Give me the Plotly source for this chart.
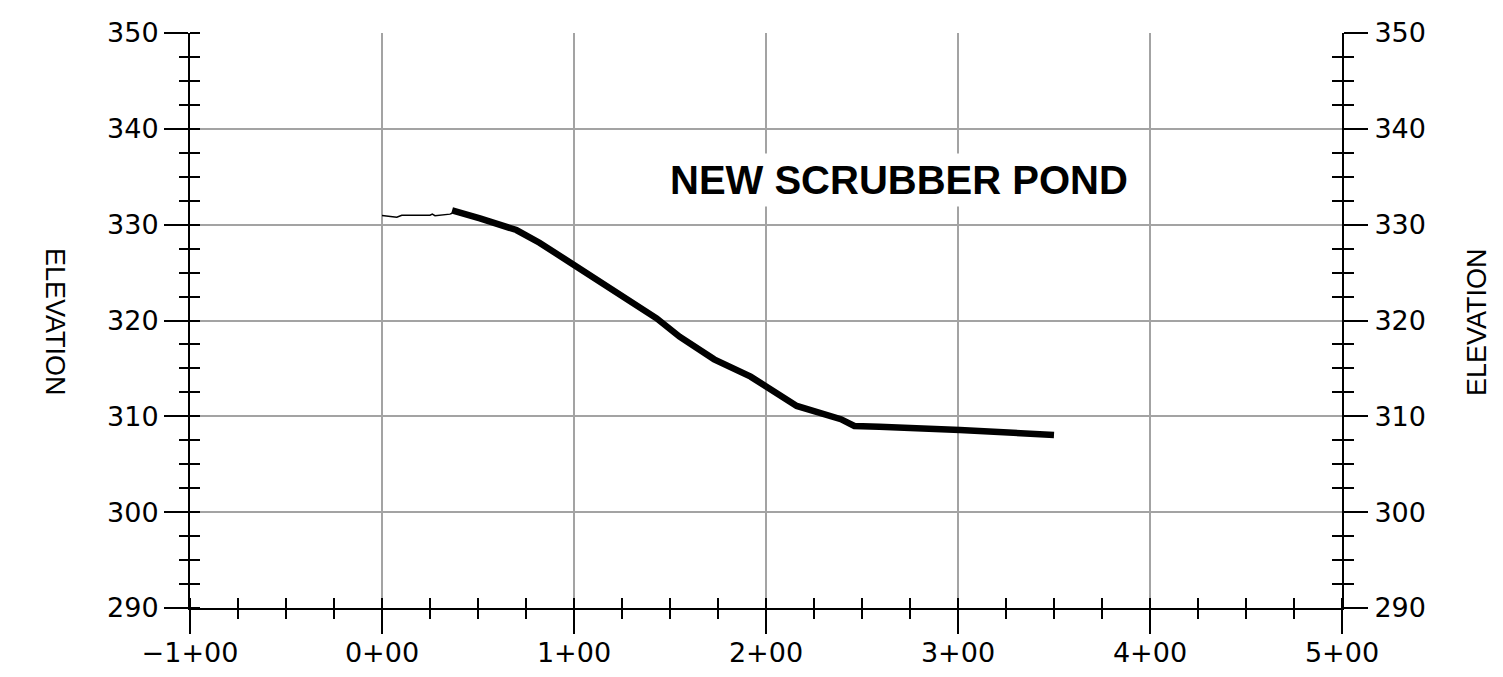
import plotly.graph_objects as go

# --- data ---
existing_x = [0.0, 0.077, 0.103, 0.25, 0.262, 0.276, 0.354, 0.365]
existing_y = [330.95, 330.77, 330.98, 330.98, 331.1, 330.94, 331.1, 331.19]

profile_x = [0.365, 0.44, 0.51, 0.70, 0.77, 0.82, 1.00, 1.20, 1.43, 1.55, 1.73,
             1.92, 2.00, 2.16, 2.39, 2.46, 2.59, 2.84, 3.01, 3.50]
profile_y = [331.5, 331.1, 330.66, 329.44, 328.75, 328.12, 325.79, 323.18, 320.23,
             318.31, 315.95, 314.14, 313.09, 311.08, 309.7, 309.0, 308.92, 308.74,
             308.57, 308.05]

x_ticks = [-1, 0, 1, 2, 3, 4, 5]
x_labels = ["\u22121+00", "0+00", "1+00", "2+00", "3+00", "4+00", "5+00"]
y_ticks = [290, 300, 310, 320, 330, 340, 350]
y_labels = ["290", "300", "310", "320", "330", "340", "350"]

title_text = "NEW SCRUBBER POND"
axis_title = "ELEVATION"

X_RANGE = [-1, 5]
Y_RANGE = [290, 350]

tick_font = dict(family="DejaVu Sans", size=27, color="black")
grid_color = "#a3a3a3"

fig = go.Figure()
fig.add_trace(go.Scatter(x=existing_x, y=existing_y, mode="lines",
                         line=dict(color="black", width=1.5),
                         showlegend=False, hoverinfo="skip"))
fig.add_trace(go.Scatter(x=profile_x, y=profile_y, mode="lines",
                         line=dict(color="black", width=6.5),
                         showlegend=False, hoverinfo="skip"))
# empty traces so overlay axes are drawn
fig.add_trace(go.Scatter(x=[], y=[], xaxis="x", yaxis="y2", showlegend=False))
fig.add_trace(go.Scatter(x=[], y=[], xaxis="x2", yaxis="y3", showlegend=False))
fig.add_trace(go.Scatter(x=[], y=[], xaxis="x2", yaxis="y4", showlegend=False))

minor_common = dict(tickcolor="black", tickwidth=1.5, ticklen=10, showgrid=False)

fig.update_layout(
    width=1495, height=669,
    margin=dict(l=182, r=161, t=25, b=69, autoexpand=False),
    paper_bgcolor="white", plot_bgcolor="white",
    xaxis=dict(
        range=X_RANGE, tickmode="array", tickvals=x_ticks, ticktext=x_labels,
        ticks="outside", ticklen=24, tickwidth=2, tickcolor="black",
        showline=True, linewidth=2, linecolor="black", automargin=False,
        showgrid=True, gridcolor=grid_color, gridwidth=1.5, zeroline=False,
        tickfont=tick_font, ticklabelstandoff=-4,
        minor=dict(ticks="inside", dtick=0.25, tick0=0, **minor_common),
    ),
    xaxis2=dict(
        range=X_RANGE, overlaying="x", side="bottom", anchor="y", automargin=False,
        showgrid=False, showline=False, zeroline=False, ticks="",
        showticklabels=False, tickmode="linear", dtick=1, tick0=0,
        minor=dict(ticks="outside", dtick=0.25, tick0=0, **minor_common),
    ),
    yaxis=dict(
        range=Y_RANGE, tickmode="array", tickvals=y_ticks, ticktext=y_labels,
        ticks="outside", ticklen=24, tickwidth=2, tickcolor="black",
        showline=True, linewidth=2, linecolor="black", automargin=False,
        showgrid=True, gridcolor=grid_color, gridwidth=1.5, zeroline=False,
        tickfont=tick_font, ticklabelstandoff=0,
        minor=dict(ticks="inside", dtick=2.5, tick0=290, **minor_common),
    ),
    yaxis2=dict(
        range=Y_RANGE, overlaying="y", side="right", anchor="x", automargin=False,
        tickmode="array", tickvals=y_ticks, ticktext=y_labels,
        ticks="outside", ticklen=24, tickwidth=2, tickcolor="black",
        showline=True, linewidth=2, linecolor="black",
        showgrid=False, zeroline=False, tickfont=tick_font, ticklabelstandoff=1,
        minor=dict(ticks="outside", dtick=2.5, tick0=290, **minor_common),
    ),
    yaxis3=dict(
        range=Y_RANGE, overlaying="y", side="left", anchor="x2", automargin=False,
        showgrid=False, showline=False, zeroline=False, ticks="",
        showticklabels=False, tickmode="linear", dtick=10, tick0=290,
        minor=dict(ticks="outside", dtick=2.5, tick0=290, **minor_common),
    ),
    yaxis4=dict(
        range=Y_RANGE, overlaying="y", side="right", anchor="x2", automargin=False,
        showgrid=False, showline=False, zeroline=False, ticks="",
        showticklabels=False, tickmode="linear", dtick=10, tick0=290,
        minor=dict(ticks="inside", dtick=2.5, tick0=290, **minor_common),
    ),
    annotations=[
        dict(text=title_text, x=2.693, y=334.7, xref="x", yref="y",
             showarrow=False, xanchor="center", yanchor="middle",
             font=dict(family="Liberation Sans", size=40, color="black", weight="bold"),
             bgcolor="white", borderpad=4),
        dict(text=axis_title, x=-0.117, y=0.497, xref="paper", yref="paper",
             showarrow=False, textangle=90, xanchor="center", yanchor="middle",
             font=dict(family="Liberation Sans", size=27, color="black")),
        dict(text=axis_title, x=1.117, y=0.497, xref="paper", yref="paper",
             showarrow=False, textangle=-90, xanchor="center", yanchor="middle",
             font=dict(family="Liberation Sans", size=27, color="black")),
    ],
)

fig.write_html("out.html")
